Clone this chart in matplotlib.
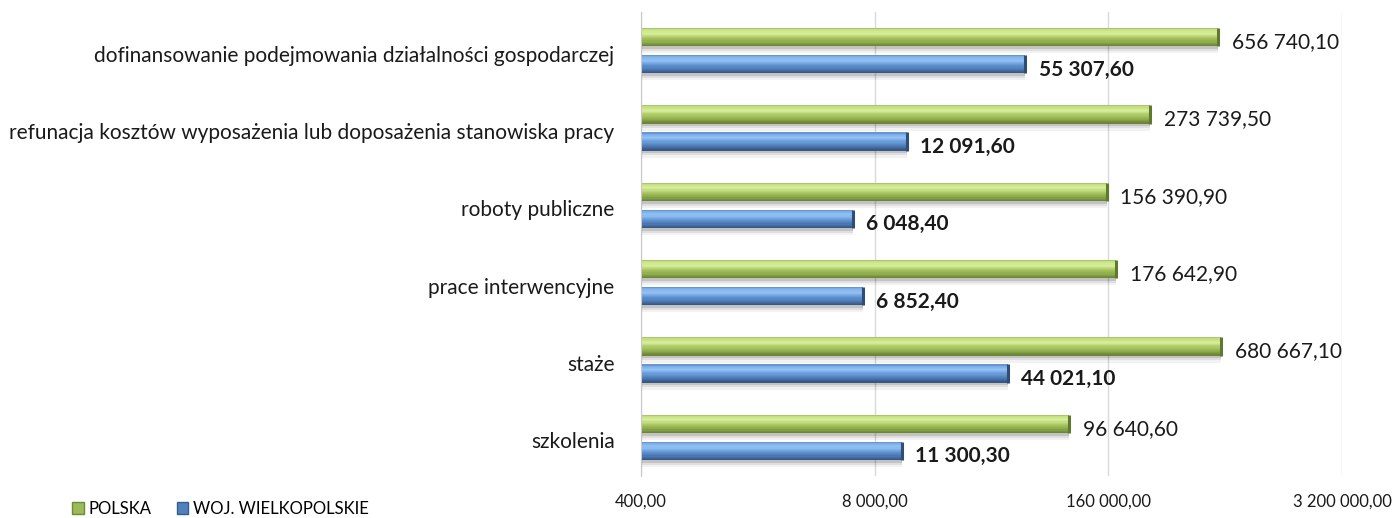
import numpy as np
import matplotlib
matplotlib.use("Agg")
import matplotlib.pyplot as plt
from matplotlib.colors import LinearSegmentedColormap
from matplotlib.patches import Patch

categories = ["dofinansowanie podejmowania działalności gospodarczej",
              "refunacja kosztów wyposażenia lub doposażenia stanowiska pracy",
              "roboty publiczne",
              "prace interwencyjne",
              "staże",
              "szkolenia"]
polska = [656740.10, 273739.50, 156390.90, 176642.90, 680667.10, 96640.60]
wielkopolskie = [55307.60, 12091.60, 6048.40, 6852.40, 44021.10, 11300.30]
series_names = ["POLSKA", "WOJ. WIELKOPOLSKIE"]
xticks = [400, 8000, 160000, 3200000]

plt.rcParams["font.family"] = ["Lato", "DejaVu Sans"]

green = LinearSegmentedColormap.from_list("g", [
    (0.0, "#9fb964"), (0.1, "#c6e184"), (0.3, "#d8ef9c"), (0.55, "#a9c661"),
    (0.8, "#8aa84a"), (1.0, "#687f34")])
blue = LinearSegmentedColormap.from_list("b", [
    (0.0, "#5a8bcc"), (0.1, "#7eaee8"), (0.3, "#93c3f4"), (0.55, "#6296d6"),
    (0.8, "#4a74ad"), (1.0, "#34547d")])


def fmt(v):
    return f"{v:,.2f}".replace(",", " ").replace(".", ",")


def bar3d(ax, pos, values, h, cmap, endcolor, n=16):
    base = xticks[0]
    widths = np.array(values) - base
    # soft drop shadow
    for k, a in [(0.09, 0.05), (0.06, 0.08), (0.035, 0.12)]:
        ax.barh(pos + k, widths, left=base, height=h, color="black",
                alpha=a, linewidth=0, zorder=1)
    for i in range(n):
        f = (i + 0.5) / n
        ax.barh(pos - h / 2 + f * h, widths, left=base, height=h / n * 1.08,
                color=cmap(f), linewidth=0, zorder=2)
    ax.vlines(values, pos - h / 2, pos + h / 2, color=endcolor, lw=2.2, zorder=3)


fig = plt.figure(figsize=(13.97, 5.18), dpi=100)
ax = fig.add_axes([641 / 1397, 42 / 518, 701 / 1397, 464 / 518])
ax.set_xscale("log")

y = np.arange(len(categories))
off, h = 0.175, 0.235
bar3d(ax, y - off, polska, h, green, "#5f7a2e")
bar3d(ax, y + off, wielkopolskie, h, blue, "#2f4d75")

for yi, v in zip(y - off, polska):
    ax.annotate(fmt(v), (v, yi), xytext=(10, -3.5), textcoords="offset points",
                va="center", ha="left", fontsize=15, color="#1a1a1a")
for yi, v in zip(y + off, wielkopolskie):
    ax.annotate(fmt(v), (v, yi), xytext=(9.5, -4), textcoords="offset points",
                va="center", ha="left", fontsize=15, fontweight="bold",
                color="#1a1a1a")

ax.set_xlim(xticks[0], xticks[-1])
ax.set_ylim(len(categories) - 0.5, -0.5)
ax.set_xticks(xticks)
ax.set_xticklabels([fmt(t) for t in xticks])
ax.xaxis.set_minor_locator(matplotlib.ticker.NullLocator())
ax.set_yticks(y + 0.04)
ax.set_yticklabels(categories)
ax.tick_params(axis="x", length=0, pad=13, labelsize=12, labelcolor="#1a1a1a")
ax.tick_params(axis="y", length=0, pad=19, labelsize=15, labelcolor="#1a1a1a")
for lab in ax.get_yticklabels():
    lab.set_verticalalignment("center_baseline")

ax.grid(axis="x", color="#d9d9d9", lw=1, zorder=0)
ax.set_axisbelow(True)
for s in ["top", "right", "bottom"]:
    ax.spines[s].set_visible(False)
ax.spines["left"].set_color("#c8c8c8")

handles = [Patch(facecolor="#9bbb59", edgecolor="#6f8a3a"),
           Patch(facecolor="#4f81bd", edgecolor="#385d8a")]
fig.legend(handles, series_names, loc="center left",
           bbox_to_anchor=(72 / 1397, 9 / 518), ncol=2, frameon=False,
           fontsize=12, handlelength=0.7, handleheight=0.7, handletextpad=0.3,
           columnspacing=1.5, borderpad=0, borderaxespad=0)

fig.savefig("out.png", dpi=100)
